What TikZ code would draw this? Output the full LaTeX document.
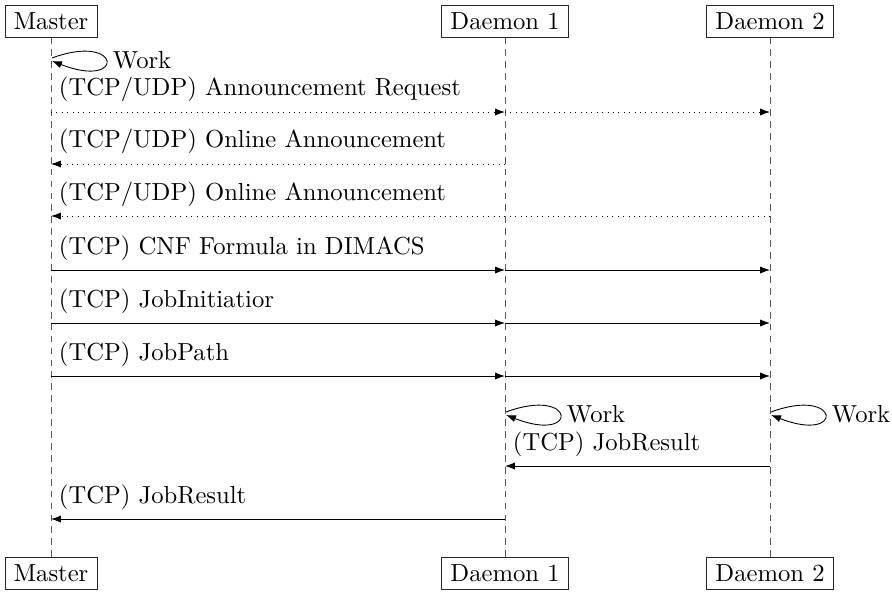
\documentclass[tikz,border=0pt]{standalone}
\usetikzlibrary{arrows.meta}
\begin{document}
\begin{tikzpicture}[x=0.4444pt,y=-0.4444pt,
  every node/.style={font=\fontsize{10.95}{13}\selectfont},
  actor/.style={draw=black!85, inner xsep=3.8pt, minimum height=14.2pt, line width=0.4pt},
  life/.style={draw=black!65, dash pattern=on 3pt off 2.3pt, line width=0.4pt},
  msg/.style={-{Latex[length=4.4pt,width=3.2pt]}, line width=0.4pt},
  dmsg/.style={msg, dotted},
  lbl/.style={anchor=west, inner sep=3.33pt},
  worklbl/.style={anchor=west, inner sep=3.33pt},
]
\useasboundingbox (0,0) rectangle (892,591);
% actors
\node[actor] (mt)  at (51,21)  {Master};
\node[actor] (d1t) at (505,21) {Daemon 1};
\node[actor] (d2t) at (770,21) {Daemon 2};
\node[actor] (mb)  at (51,573) {Master};
\node[actor] (d1b) at (505,573) {Daemon 1};
\node[actor] (d2b) at (770,573) {Daemon 2};
% lifelines
\draw[life] (mt.south) -- (mb.north);
\draw[life] (d1t.south) -- (d1b.north);
\draw[life] (d2t.south) -- (d2b.north);
% work loop master
\coordinate (mw1) at (52,58);
\coordinate (mw2) at (52,61);
\draw[msg] (mw1) .. controls (122,32) and (126,90) .. (mw2);
\node[worklbl] (mwl) at (105,60) {Work};
% announcement request
\coordinate (m1) at (51,112); \coordinate (a1) at (505,112); \coordinate (b1) at (770,112);
\draw[dmsg] (m1) -- (a1);
\draw[dmsg] (a1) -- (b1);
\node[lbl] (l1) at (51,89) {(TCP/UDP) Announcement Request};
% online announcement d1
\coordinate (m2) at (51,164); \coordinate (a2) at (505,164);
\draw[dmsg] (a2) -- (m2);
\node[lbl] (l2) at (51,141) {(TCP/UDP) Online Announcement};
% online announcement d2
\coordinate (m3) at (51,216); \coordinate (b3) at (770,216);
\draw[dmsg] (b3) -- (m3);
\node[lbl] (l3) at (51,194) {(TCP/UDP) Online Announcement};
% CNF
\coordinate (m4) at (51,270); \coordinate (a4) at (505,270); \coordinate (b4) at (770,270);
\draw[msg] (m4) -- (a4);
\draw[msg] (a4) -- (b4);
\node[lbl] (l4) at (51,248) {(TCP) CNF Formula in DIMACS};
% JobInitiatior
\coordinate (m5) at (51,323); \coordinate (a5) at (505,323); \coordinate (b5) at (770,323);
\draw[msg] (m5) -- (a5);
\draw[msg] (a5) -- (b5);
\node[lbl] (l5) at (51,301) {(TCP) JobInitiatior};
% JobPath
\coordinate (m6) at (51,376); \coordinate (a6) at (505,376); \coordinate (b6) at (770,376);
\draw[msg] (m6) -- (a6);
\draw[msg] (a6) -- (b6);
\node[lbl] (l6) at (51,354) {(TCP) JobPath};
% work loops daemons
\coordinate (aw1) at (506,412); \coordinate (aw2) at (506,415);
\draw[msg] (aw1) .. controls (576,386) and (580,444) .. (aw2);
\node[worklbl] (awl) at (559,414) {Work};
\coordinate (bw1) at (771,412); \coordinate (bw2) at (771,415);
\draw[msg] (bw1) .. controls (841,386) and (845,444) .. (bw2);
\node[worklbl] (bwl) at (824,414) {Work};
% JobResult d2 -> d1
\coordinate (a7) at (505,466); \coordinate (b7) at (770,466);
\draw[msg] (b7) -- (a7);
\node[lbl] (l7) at (505,444) {(TCP) JobResult};
% JobResult d1 -> master
\coordinate (m8) at (51,519); \coordinate (a8) at (505,519);
\draw[msg] (a8) -- (m8);
\node[lbl] (l8) at (51,497) {(TCP) JobResult};
\end{tikzpicture}
\end{document}
